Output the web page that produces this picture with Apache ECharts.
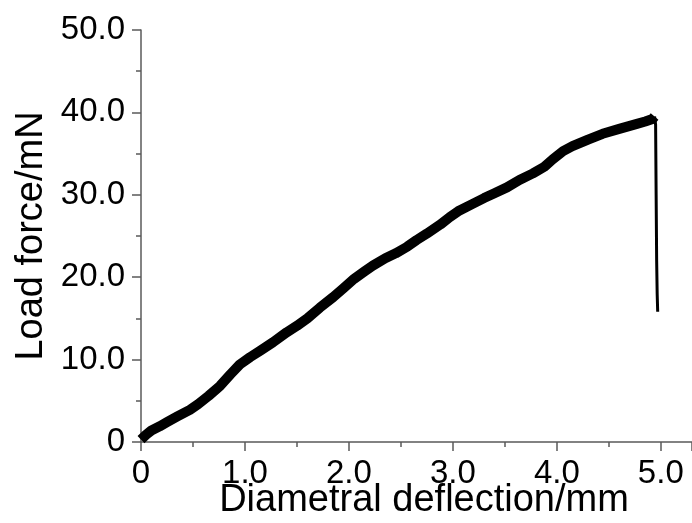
<!DOCTYPE html>
<html>
<head>
<meta charset="utf-8">
<script src="https://cdn.jsdelivr.net/npm/echarts@6/dist/echarts.min.js"></script>
<style>
  html, body { margin: 0; padding: 0; background: #fff; }
  #chart { width: 692px; height: 523px; }
</style>
</head>
<body>
<div id="chart"></div>
<script>
// deflection (mm) and load (mN)
var deflection = [0.00, 0.05, 0.10, 0.18, 0.25, 0.35, 0.47, 0.55, 0.65, 0.76, 0.86, 0.95,
    1.05, 1.15, 1.27, 1.40, 1.50, 1.60, 1.72, 1.85, 1.95, 2.05, 2.15, 2.23, 2.35, 2.45,
    2.56, 2.65, 2.75, 2.88, 2.97, 3.05, 3.19, 3.30, 3.40, 3.52, 3.64, 3.77, 3.88, 3.96,
    4.06, 4.15, 4.30, 4.44, 4.60, 4.77, 4.85, 4.92, 4.94];
var load = [0.3, 0.9, 1.4, 1.9, 2.4, 3.1, 3.9, 4.6, 5.6, 6.8, 8.2, 9.4,
    10.3, 11.1, 12.1, 13.3, 14.1, 15.0, 16.3, 17.6, 18.7, 19.8, 20.7, 21.4, 22.3, 22.9,
    23.7, 24.5, 25.3, 26.4, 27.3, 28.0, 28.9, 29.6, 30.2, 30.9, 31.8, 32.6, 33.4, 34.3,
    35.3, 35.9, 36.7, 37.4, 38.0, 38.6, 38.9, 39.2, 39.5];
// the break after the peak
var breakDeflection = [4.94, 4.95, 4.955, 4.96, 4.965, 4.97];
var breakLoad = [39.5, 38.5, 30.0, 22.0, 18.0, 15.8];

var xName = 'Diametral deflection/mm';
var yName = 'Load force/mN';

function pairs(xs, ys) {
    var out = [];
    xs.forEach(function (x, i) { out.push([x, ys[i]]); });
    return out;
}

function tickLabel(v) {
    return v === 0 ? '0' : v.toFixed(1);
}

var axisColor = '#5a5a5a';
var font = 'Liberation Sans, Arial, sans-serif';

var myChart = echarts.init(document.getElementById('chart'));
var option = {
    animation: false,
    backgroundColor: '#fff',
    grid: { left: 141, top: 30, right: 0, bottom: 81, outerBoundsMode: 'none', containLabel: false },
    xAxis: {
        type: 'value',
        min: 0,
        max: 5.3,
        interval: 1,
        name: xName,
        nameLocation: 'middle',
        nameGap: 40,
        nameMoveOverlap: false,
        nameTextStyle: { fontFamily: font, fontSize: 38, color: '#000', padding: [0, 0, 0, 15] },
        axisLine: { lineStyle: { color: axisColor, width: 1.5 } },
        axisTick: { length: 9, lineStyle: { color: axisColor, width: 1.5 } },
        minorTick: { show: true, splitNumber: 2, length: 5, lineStyle: { color: axisColor, width: 1.5 } },
        axisLabel: { formatter: tickLabel, margin: 15, fontFamily: font, fontSize: 33, color: '#000', showMaxLabel: false },
        splitLine: { show: false }
    },
    yAxis: {
        type: 'value',
        min: 0,
        max: 50,
        interval: 10,
        name: yName,
        nameLocation: 'middle',
        nameGap: 90,
        nameMoveOverlap: false,
        nameTextStyle: { fontFamily: font, fontSize: 38, color: '#000' },
        axisLine: { show: true, lineStyle: { color: axisColor, width: 1.5 } },
        axisTick: { show: true, length: 9, lineStyle: { color: axisColor, width: 1.5 } },
        minorTick: { show: true, splitNumber: 2, length: 5, lineStyle: { color: axisColor, width: 1.5 } },
        axisLabel: { formatter: tickLabel, margin: 16, fontFamily: font, fontSize: 33, color: '#000' },
        splitLine: { show: false }
    },
    series: [
        {
            name: 'Load',
            type: 'line',
            data: pairs(deflection, load),
            showSymbol: false,
            lineStyle: { color: '#000', width: 10, join: 'round', cap: 'butt' }
        },
        {
            name: 'Break',
            type: 'line',
            data: pairs(breakDeflection, breakLoad),
            showSymbol: false,
            lineStyle: { color: '#000', width: 3, join: 'round' }
        }
    ]
};
myChart.setOption(option);
</script>
</body>
</html>
